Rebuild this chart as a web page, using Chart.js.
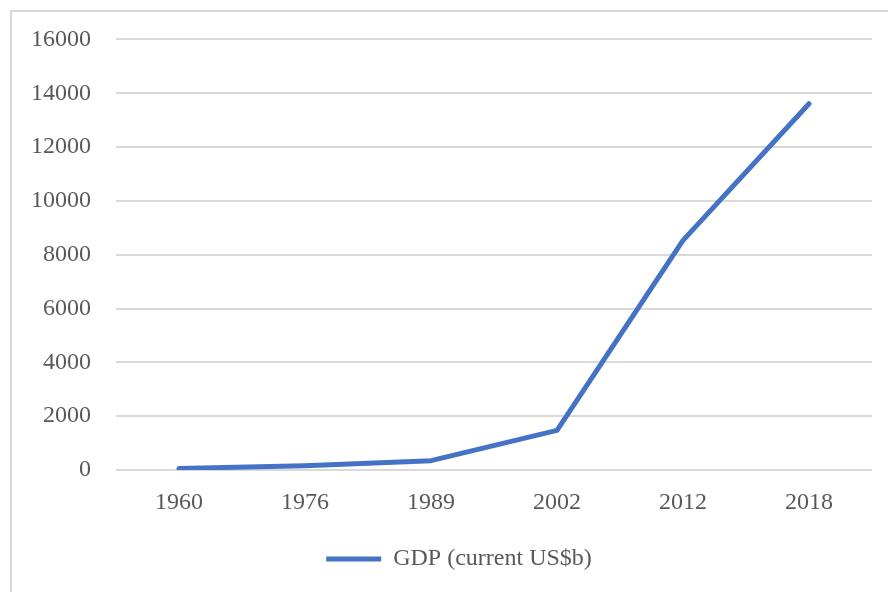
<!DOCTYPE html>
<html>
<head>
<meta charset="utf-8">
<script src="https://cdn.jsdelivr.net/npm/chart.js@4.4.1/dist/chart.umd.min.js"></script>
<style>
  html, body { margin: 0; padding: 0; background: #fff; }
  #wrap { position: relative; width: 888px; height: 592px; overflow: hidden; }
  #frame {
    position: absolute; left: 10px; top: 10px; width: 900px; height: 700px;
    border: 2px solid #d9d9d9; box-sizing: border-box;
  }
  #gdp-chart { position: absolute; left: 0; top: 0; }
</style>
</head>
<body>
<div id="wrap">
  <div id="frame"></div>
  <canvas id="gdp-chart" width="888" height="592"></canvas>
</div>
<script>
// GDP, current US$ billions
var years = ['1960', '1976', '1989', '2002', '2012', '2018'];
var gdpValues = [60, 154, 348, 1471, 8532, 13608];
var yTicks = [0, 2000, 4000, 6000, 8000, 10000, 12000, 14000, 16000];
var seriesLabel = 'GDP (current US$b)';

var FONT = "'Liberation Serif', 'Times New Roman', serif";
var TEXT = '#595959';

// nudge the legend so it sits centred under the plot area
var legendShift = {
  id: 'legendShift',
  afterLayout: function (chart) {
    chart.legend.left += 23;
    chart.legend.right += 23;
  }
};

var ctx = document.getElementById('gdp-chart').getContext('2d');

new Chart(ctx, {
  type: 'line',
  data: {
    labels: years,
    datasets: [{
      label: seriesLabel,
      data: gdpValues,
      borderColor: '#4472C4',
      backgroundColor: '#4472C4',
      borderWidth: 5,
      borderCapStyle: 'round',
      borderJoinStyle: 'round',
      pointRadius: 0,
      pointHoverRadius: 0,
      tension: 0,
      fill: false
    }]
  },
  options: {
    responsive: false,
    animation: false,
    layout: { padding: { left: 0, right: 16, top: 39, bottom: 11 } },
    plugins: {
      tooltip: { enabled: false },
      legend: {
        position: 'bottom',
        labels: {
          font: { family: FONT, size: 24 },
          color: TEXT,
          usePointStyle: true,
          pointStyle: 'line',
          pointStyleWidth: 55,
          padding: 10
        }
      }
    },
    scales: {
      x: {
        offset: true,
        grid: { display: false, drawTicks: false },
        border: { display: false },
        ticks: { font: { family: FONT, size: 24 }, color: TEXT, padding: 18, maxRotation: 0 },
        afterFit: function (scale) { scale.height = 67; }
      },
      y: {
        min: 0,
        max: 16000,
        afterBuildTicks: function (scale) {
          scale.ticks = yTicks.map(function (v) { return { value: v }; });
        },
        grid: { color: '#d9d9d9', lineWidth: 2, drawTicks: false },
        border: { display: false },
        ticks: {
          font: { family: FONT, size: 24 },
          color: TEXT,
          padding: 25,
          callback: function (v) { return String(v); }
        },
        afterFit: function (scale) { scale.width = 116; }
      }
    }
  },
  plugins: [legendShift]
});
</script>
</body>
</html>
